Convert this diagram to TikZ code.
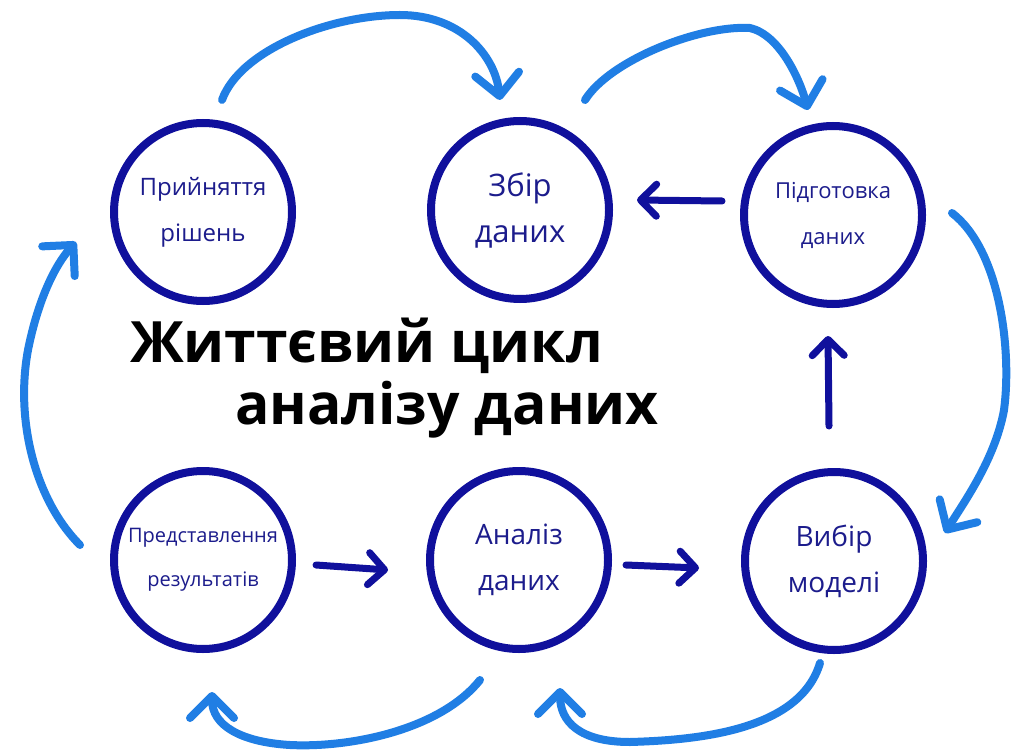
\documentclass[tikz,border=0pt]{standalone}
\usepackage{fontspec}
\setmainfont{Open Sans}
\usetikzlibrary{arrows.meta}
\definecolor{navy}{RGB}{16,16,156}
\definecolor{inkblue}{RGB}{28,28,140}
\definecolor{sky}{RGB}{32,126,228}
\begin{document}
\begin{tikzpicture}[x=1pt,y=-1pt,
  stage/.style={circle,draw=navy,line width=8pt,minimum size=178pt,inner sep=0pt,align=center,text=inkblue},
  small/.style={font=\fontsize{24}{46}\selectfont},
  big/.style={font=\fontsize{28}{46}\selectfont},
  cyc/.style={draw=sky,line width=8pt,line cap=round,-{Straight Barb[round,length=22pt,width=44pt]}},
  step arrow/.style={draw=navy,line width=7pt,line cap=round,-{Straight Barb[round,length=16pt,width=32pt]}},
  title/.style={anchor=base west,inner sep=0pt,font=\bfseries\fontsize{57}{62}\selectfont}]
\useasboundingbox (0,0) rectangle (1011,751);
\fill[white] (0,0) rectangle (1011,751);

\node[stage,small] (rish) at (203,212) {Прийняття\\рішень};
\node[stage,font=\fontsize{31}{46}\selectfont] (zbir) at (520,210) {Збір\\даних};
\node[stage,font=\fontsize{22}{46}\selectfont] (pidg) at (833,215) {Підготовка\\даних};
\node[stage,font=\fontsize{20}{44}\selectfont] (pred) at (203,560) {Представлення\\результатів};
\node[stage,big] (anal) at (519,560) {Аналіз\\даних};
\node[stage,big] (vybir) at (834,561) {Вибір\\моделі};

\node[title] (t1) at (130,362) {Життєвий цикл};
\node[title] (t2) at (235,424) {аналізу даних};

% dark blue step arrows
\draw[step arrow] ([shift={(-18,-14)}]pidg.west) -- ([shift={(24,-10)}]zbir.east);
\draw[step arrow] ([shift={(-5,-42)}]vybir.north) -- ([shift={(-5,28)}]pidg.south);
\draw[step arrow] ([shift={(20,5)}]pred.east) -- ([shift={(-38,10)}]anal.west);
\draw[step arrow] ([shift={(14,5)}]anal.east) -- ([shift={(-42,7)}]vybir.west);

% light blue cycle arrows
\coordinate (a1s) at (222,100); \coordinate (a1e) at (500,100);
\draw[cyc] (a1s) .. controls (240,50) and (330,15) .. (400,15) .. controls (460,15) and (495,55) .. (a1e);
\coordinate (a2s) at (585,100); \coordinate (a2e) at (808,110);
\draw[cyc] (a2s) .. controls (610,60) and (700,25) .. (750,28) .. controls (780,35) and (800,80) .. (a2e);
\coordinate (a3s) at (952,213); \coordinate (a3e) at (945,533);
\draw[cyc] (a3s) .. controls (1000,250) and (1012,350) .. (1004,410) .. controls (995,460) and (962,505) .. (a3e);
\coordinate (a4s) at (820,663); \coordinate (a4e) at (560,688);
\draw[cyc] (a4s) .. controls (800,730) and (700,740) .. (630,742) .. controls (580,742) and (560,722) .. (a4e);
\coordinate (a5s) at (480,680); \coordinate (a5e) at (212,692);
\draw[cyc] (a5s) .. controls (440,730) and (350,748) .. (290,745) .. controls (240,742) and (212,725) .. (a5e);
\coordinate (a6s) at (80,545); \coordinate (a6e) at (76,242);
\draw[cyc] (a6s) .. controls (35,500) and (15,420) .. (28,350) .. controls (38,300) and (55,265) .. (a6e);
\end{tikzpicture}
\end{document}
